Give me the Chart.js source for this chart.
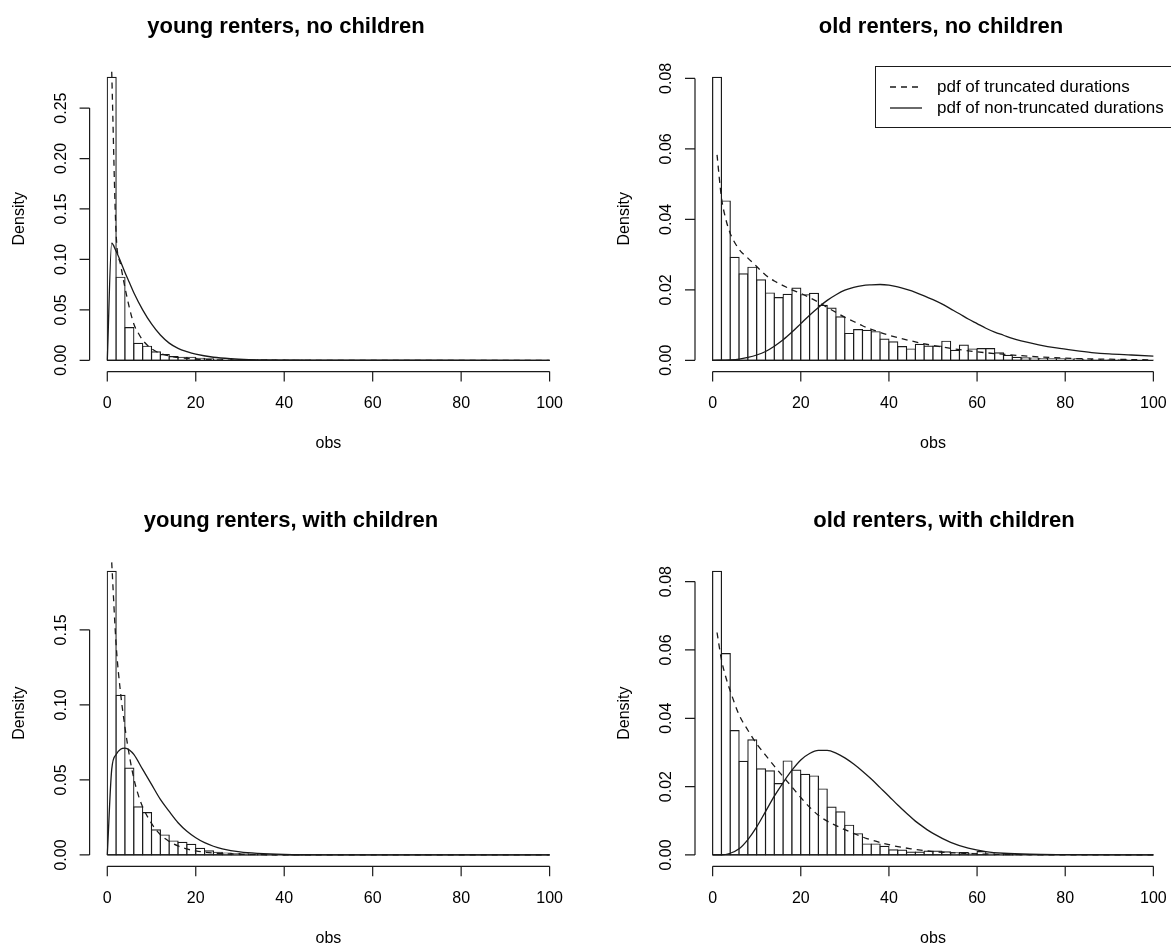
<!DOCTYPE html>
<html>
<head>
<meta charset="utf-8">
<script src="https://cdn.jsdelivr.net/npm/chart.js@4.4.1/dist/chart.umd.min.js"></script>
<style>
  html, body { margin: 0; padding: 0; background: #fff; }
  #page { position: relative; width: 1171px; height: 947px; overflow: hidden; }
  .panel { position: absolute; }
</style>
</head>
<body>
<div id="page">
  <canvas class="panel" id="young-no-kids" width="585" height="473" style="left:0;top:0"></canvas>
  <canvas class="panel" id="old-no-kids" width="586" height="473" style="left:585px;top:0"></canvas>
  <canvas class="panel" id="young-kids" width="585" height="474" style="left:0;top:473px"></canvas>
  <canvas class="panel" id="old-kids" width="586" height="474" style="left:585px;top:473px"></canvas>
</div>
<script>
// SHARED BINS & AXES //

const binMids = [1, 3, 5, 7, 9, 11, 13, 15, 17, 19, 21, 23, 25, 27, 29, 31, 33, 35, 37, 39,
                 41, 43, 45, 47, 49, 51, 53, 55, 57, 59, 61, 63, 65, 67, 69, 71, 73, 75, 77, 79,
                 81, 83, 85, 87, 89, 91, 93, 95, 97, 99];
const xTicks = [0, 20, 40, 60, 80, 100];
const xLabel = 'obs';
const yLabel = 'Density';
const legendLabels = ['pdf of truncated durations', 'pdf of non-truncated durations'];

// YOUNG RENTERS, NO CHILDREN //

const youngNoKidsHist = [0.2805, 0.0823, 0.0324, 0.0168, 0.0139, 0.0083, 0.0056, 0.0036, 0.0030, 0.0030,
                         0.0020, 0.0015, 0.0010, 0.0008, 0.0006, 0.0005, 0.0004, 0.0003, 0.0002, 0.0002,
                         0.0001, 0.0001, 0.0001, 0, 0, 0, 0, 0, 0, 0,
                         0, 0, 0, 0, 0, 0, 0, 0, 0, 0,
                         0, 0, 0, 0, 0, 0, 0, 0, 0, 0];
const youngNoKidsTruncX = [1, 2, 3, 4, 5, 6, 7, 8, 10, 12, 15, 20, 25, 30, 40, 100];
const youngNoKidsTruncY = [0.286, 0.125, 0.095, 0.072, 0.052, 0.036, 0.027, 0.020, 0.0115, 0.0068, 0.0034, 0.0012, 0.0004, 0.00015, 0, 0];
const youngNoKidsFullX = [0, 1, 2, 3, 4, 5, 6, 8, 10, 12, 14, 16, 18, 20, 24, 28, 32, 36, 44, 100];
const youngNoKidsFullY = [0, 0.116, 0.108, 0.098, 0.087, 0.077, 0.067, 0.050, 0.036, 0.025, 0.017, 0.0118, 0.0085, 0.006, 0.003, 0.0015, 0.0007, 0.0003, 0.0001, 0];
const youngNoKidsTicks = [0, 0.05, 0.10, 0.15, 0.20, 0.25];

// OLD RENTERS, NO CHILDREN //

const oldNoKidsHist = [0.0803, 0.0452, 0.0292, 0.0245, 0.0264, 0.0228, 0.0191, 0.0178, 0.0187, 0.0205,
                       0.0186, 0.0190, 0.0156, 0.0148, 0.0123, 0.0076, 0.0087, 0.0085, 0.0081, 0.0060,
                       0.0052, 0.0039, 0.0032, 0.0045, 0.0040, 0.0040, 0.0054, 0.0028, 0.0043, 0.0032,
                       0.0033, 0.0033, 0.0021, 0.0014, 0.0008, 0.0007, 0.0006, 0.0005, 0.0004, 0.0004,
                       0.0003, 0.0004, 0.0002, 0.0001, 0.0001, 0, 0.0001, 0, 0, 0];
const oldNoKidsTruncX = [1, 2, 3, 4, 6, 8, 10, 12, 14, 16, 18, 20, 22, 24, 26, 28, 30, 32, 34, 36,
                         38, 40, 45, 50, 55, 60, 65, 70, 75, 80, 85, 90, 100];
const oldNoKidsTruncY = [0.0583, 0.0462, 0.040, 0.036, 0.0315, 0.0290, 0.0266, 0.0242, 0.0225, 0.0212,
                         0.0200, 0.0190, 0.0178, 0.0165, 0.0150, 0.0136, 0.0122, 0.0110, 0.0098, 0.0088,
                         0.0079, 0.0071, 0.0055, 0.0042, 0.0032, 0.0024, 0.0018, 0.0013, 0.0009, 0.0006,
                         0.0004, 0.0003, 0.0001];
const oldNoKidsFullX = [0, 4, 6, 8, 10, 12, 14, 16, 18, 20, 22, 24, 26, 28, 30, 32, 34, 36, 38, 40,
                        42, 44, 46, 48, 50, 52, 54, 56, 58, 60, 62, 64, 66, 68, 70, 74, 78, 82, 86, 90,
                        95, 100];
const oldNoKidsFullY = [0, 0.0001, 0.0003, 0.0008, 0.0015, 0.0025, 0.0040, 0.0058, 0.0080, 0.0104,
                        0.0128, 0.0150, 0.0170, 0.0186, 0.0199, 0.0207, 0.0212, 0.0214, 0.0215, 0.0213,
                        0.0208, 0.0201, 0.0193, 0.0183, 0.0172, 0.0160, 0.0146, 0.0132, 0.0117, 0.0104,
                        0.0091, 0.0080, 0.0071, 0.0062, 0.0055, 0.0044, 0.0035, 0.0028, 0.0022, 0.0018,
                        0.0015, 0.0012];
const oldNoKidsTicks = [0, 0.02, 0.04, 0.06, 0.08];

// YOUNG RENTERS, WITH CHILDREN //

const youngKidsHist = [0.189, 0.1064, 0.0578, 0.0320, 0.0282, 0.0167, 0.0133, 0.0093, 0.0084, 0.0071,
                       0.0044, 0.0027, 0.0018, 0.0013, 0.0009, 0.0007, 0.0005, 0.0004, 0.0003, 0.0002,
                       0.0001, 0.0001, 0.0001, 0, 0, 0, 0, 0, 0, 0,
                       0, 0, 0, 0, 0, 0.0003, 0, 0, 0, 0,
                       0, 0, 0, 0, 0, 0, 0, 0, 0, 0];
const youngKidsTruncX = [1, 2, 3, 4, 5, 6, 7, 8, 10, 12, 14, 16, 18, 20, 25, 30, 40, 100];
const youngKidsTruncY = [0.195, 0.140, 0.108, 0.085, 0.066, 0.051, 0.040, 0.032, 0.021, 0.0135, 0.009, 0.006, 0.004, 0.0027, 0.001, 0.0004, 0.0001, 0];
const youngKidsFullX = [0, 1, 2, 3, 4, 5, 6, 8, 10, 12, 14, 16, 18, 20, 22, 24, 26, 30, 34, 40, 50, 100];
const youngKidsFullY = [0, 0.057, 0.067, 0.0705, 0.0712, 0.070, 0.067, 0.057, 0.047, 0.037, 0.029, 0.0215, 0.0158, 0.0115, 0.0082, 0.0058, 0.0041, 0.002, 0.001, 0.0003, 0.00005, 0];
const youngKidsTicks = [0, 0.05, 0.10, 0.15];

// OLD RENTERS, WITH CHILDREN //

const oldKidsHist = [0.0830, 0.0589, 0.0364, 0.0274, 0.0337, 0.0252, 0.0246, 0.0209, 0.0275, 0.0248,
                     0.0236, 0.0231, 0.0193, 0.0140, 0.0126, 0.0087, 0.0062, 0.0032, 0.0032, 0.0025,
                     0.0015, 0.0014, 0.0008, 0.0008, 0.0011, 0.0011, 0.0009, 0.0006, 0.0007, 0.0005,
                     0.0010, 0.0003, 0.0002, 0.0002, 0.0001, 0.0001, 0.0001, 0, 0, 0,
                     0, 0, 0, 0, 0, 0, 0, 0, 0, 0];
const oldKidsTruncX = [1, 2, 3, 4, 6, 8, 10, 12, 14, 16, 18, 20, 22, 24, 26, 28, 30, 32, 35, 40,
                       45, 50, 55, 60, 70, 100];
const oldKidsTruncY = [0.0651, 0.0572, 0.052, 0.048, 0.041, 0.0365, 0.0325, 0.0292, 0.026, 0.0229,
                       0.0199, 0.0168, 0.0140, 0.0116, 0.0099, 0.0086, 0.0074, 0.0063, 0.0048, 0.0030,
                       0.0018, 0.0010, 0.0006, 0.0003, 0.0001, 0];
const oldKidsFullX = [0, 2, 4, 6, 8, 10, 12, 14, 16, 18, 20, 22, 24, 26, 28, 30, 32, 34, 36, 38,
                      40, 42, 44, 46, 48, 50, 54, 58, 62, 66, 72, 80, 100];
const oldKidsFullY = [0, 0, 0.0005, 0.0018, 0.0045, 0.0082, 0.0127, 0.0172, 0.0212, 0.0248,
                      0.0278, 0.0297, 0.0306, 0.0306, 0.0298, 0.0284, 0.0266, 0.0245, 0.0222, 0.0197,
                      0.0172, 0.0146, 0.0122, 0.0099, 0.0080, 0.0063, 0.0037, 0.0020, 0.0010, 0.0005,
                      0.0002, 0.0001, 0];
const oldKidsTicks = [0, 0.02, 0.04, 0.06, 0.08];

// R-STYLE AXES, TITLES AND LEGEND //

const FONT = '"Liberation Sans", Arial, Helvetica, sans-serif';
const INK = '#1a1a1a';

const rStyle = {
    id: 'rStyle',
    afterDatasetsDraw(chart) {
        // bottom edge of the empty bins
        const { ctx, scales: { x, y } } = chart;
        ctx.save();
        ctx.strokeStyle = INK;
        ctx.lineWidth = 1.2;
        ctx.beginPath();
        ctx.moveTo(x.getPixelForValue(xTicks[0]), y.getPixelForValue(0));
        ctx.lineTo(x.getPixelForValue(xTicks[xTicks.length - 1]), y.getPixelForValue(0));
        ctx.stroke();
        ctx.restore();
    },
    afterDraw(chart, args, opts) {
        const { ctx, chartArea: a, scales: { x, y } } = chart;
        const yt = opts.yTicks;
        ctx.save();
        ctx.strokeStyle = INK;
        ctx.fillStyle = '#000';
        ctx.lineWidth = 1.2;

        ctx.beginPath();
        ctx.moveTo(x.getPixelForValue(xTicks[0]), a.bottom);
        ctx.lineTo(x.getPixelForValue(xTicks[xTicks.length - 1]), a.bottom);
        xTicks.forEach(v => {
            const px = x.getPixelForValue(v);
            ctx.moveTo(px, a.bottom);
            ctx.lineTo(px, a.bottom + 10);
        });
        ctx.moveTo(a.left, y.getPixelForValue(yt[0]));
        ctx.lineTo(a.left, y.getPixelForValue(yt[yt.length - 1]));
        yt.forEach(v => {
            const py = y.getPixelForValue(v);
            ctx.moveTo(a.left, py);
            ctx.lineTo(a.left - 10, py);
        });
        ctx.stroke();

        ctx.font = '16px ' + FONT;
        ctx.textAlign = 'center';
        ctx.textBaseline = 'middle';
        xTicks.forEach(v => ctx.fillText(String(v), x.getPixelForValue(v), a.bottom + 32));
        ctx.fillText(xLabel, x.getPixelForValue(50), a.bottom + 72);

        yt.forEach(v => {
            ctx.save();
            ctx.translate(a.left - 28, y.getPixelForValue(v));
            ctx.rotate(-Math.PI / 2);
            ctx.fillText(v.toFixed(2), 0, 0);
            ctx.restore();
        });
        ctx.save();
        ctx.translate(a.left - 70, (a.top + a.bottom) / 2);
        ctx.rotate(-Math.PI / 2);
        ctx.fillText(yLabel, 0, 0);
        ctx.restore();

        ctx.font = 'bold 22px ' + FONT;
        ctx.fillText(opts.title, opts.titleX, a.top - 39);

        if (opts.legend) {
            // legend box runs past the right edge, as in the original
            const left = a.right - 296;
            ctx.lineWidth = 1;
            ctx.strokeRect(left + 0.5, a.top + 0.5, a.right - left + 4, 61);
            ctx.font = '17px ' + FONT;
            ctx.textAlign = 'left';
            ctx.lineWidth = 1.3;
            legendLabels.forEach((label, i) => {
                const rowY = a.top + 21 + i * 21;
                ctx.setLineDash(i === 0 ? [6, 5] : []);
                ctx.beginPath();
                ctx.moveTo(left + 15, rowY);
                ctx.lineTo(left + 47, rowY);
                ctx.stroke();
                ctx.setLineDash([]);
                ctx.fillText(label, left + 62, rowY);
            });
        }
        ctx.restore();
    }
};

function toPoints(xs, ys) {
    return xs.map((v, i) => ({ x: v, y: ys[i] }));
}

function makePanel(id, p) {
    const ymax = Math.max(...p.hist);
    return new Chart(document.getElementById(id), {
        type: 'bar',
        data: {
            datasets: [{
                type: 'line',
                data: toPoints(p.truncX, p.truncY),
                borderColor: INK,
                borderWidth: 1.3,
                borderDash: [6, 5],
                pointRadius: 0,
                cubicInterpolationMode: 'monotone',
                order: 1
            }, {
                type: 'line',
                data: toPoints(p.fullX, p.fullY),
                borderColor: INK,
                borderWidth: 1.3,
                pointRadius: 0,
                cubicInterpolationMode: 'monotone',
                order: 1
            }, {
                type: 'bar',
                data: toPoints(binMids, p.hist),
                backgroundColor: '#fff',
                borderColor: INK,
                borderWidth: 1.2,
                inflateAmount: 0.6,
                borderSkipped: false,
                barPercentage: 1,
                categoryPercentage: 1,
                order: 2
            }]
        },
        options: {
            responsive: false,
            animation: false,
            layout: { padding: p.padding },
            scales: {
                x: { type: 'linear', min: -4, max: 104, offset: false, display: false },
                y: { type: 'linear', min: -0.04 * ymax, max: 1.04 * ymax, display: false }
            },
            plugins: {
                legend: { display: false },
                tooltip: { enabled: false },
                rStyle: { title: p.title, titleX: p.titleX, yTicks: p.ticks, legend: p.legend }
            }
        },
        plugins: [rStyle]
    });
}

makePanel('young-no-kids', {
    title: 'young renters, no children', titleX: 286,
    hist: youngNoKidsHist, truncX: youngNoKidsTruncX, truncY: youngNoKidsTruncY,
    fullX: youngNoKidsFullX, fullY: youngNoKidsFullY, ticks: youngNoKidsTicks,
    padding: { left: 89.6, right: 17.7, top: 66, bottom: 101.4 }
});

makePanel('old-no-kids', {
    title: 'old renters, no children', titleX: 356, legend: true,
    hist: oldNoKidsHist, truncX: oldNoKidsTruncX, truncY: oldNoKidsTruncY,
    fullX: oldNoKidsFullX, fullY: oldNoKidsFullY, ticks: oldNoKidsTicks,
    padding: { left: 110, right: 0, top: 66, bottom: 101.4 }
});

makePanel('young-kids', {
    title: 'young renters, with children', titleX: 291,
    hist: youngKidsHist, truncX: youngKidsTruncX, truncY: youngKidsTruncY,
    fullX: youngKidsFullX, fullY: youngKidsFullY, ticks: youngKidsTicks,
    padding: { left: 89.6, right: 17.7, top: 87, bottom: 80.7 }
});

makePanel('old-kids', {
    title: 'old renters, with children', titleX: 359,
    hist: oldKidsHist, truncX: oldKidsTruncX, truncY: oldKidsTruncY,
    fullX: oldKidsFullX, fullY: oldKidsFullY, ticks: oldKidsTicks,
    padding: { left: 110, right: 0, top: 87, bottom: 80.7 }
});
</script>
</body>
</html>
